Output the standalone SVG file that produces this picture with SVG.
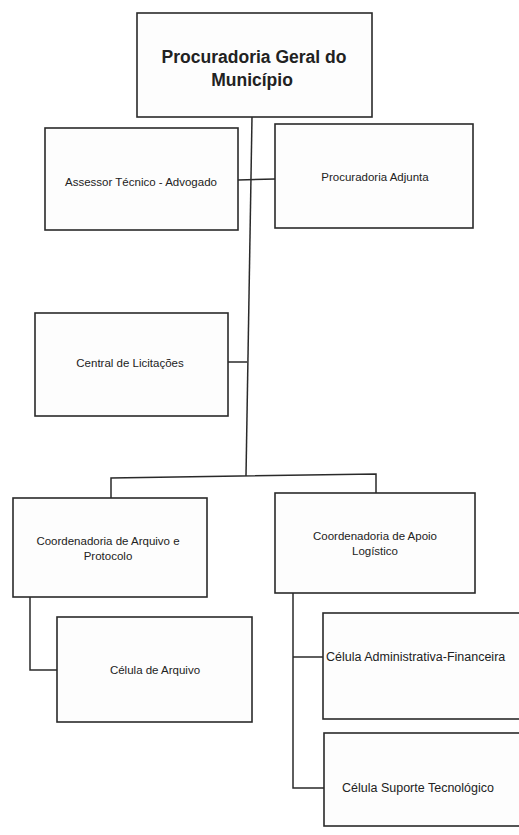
<svg xmlns="http://www.w3.org/2000/svg" width="519" height="835" viewBox="0 0 519 835">
<style>
.box{fill:#fdfdfd;stroke:#2a2a2a;stroke-width:1.6}
.t{font-family:"Liberation Sans","Noto Sans",sans-serif;fill:#222;text-anchor:middle;font-size:11.5px}
.tl{font-family:"Liberation Sans","Noto Sans",sans-serif;fill:#222;font-size:12.5px}
.title{font-family:"Liberation Sans","Noto Sans",sans-serif;fill:#222;text-anchor:middle;font-size:17.5px;font-weight:bold}
.c{fill:none;stroke:#2a2a2a;stroke-width:1.5}
</style>
<rect width="519" height="835" fill="#ffffff"/>
<g id="connectors">
<path class="c" d="M252 117 L246 476"/>
<path class="c" d="M238 180 L275 179"/>
<path class="c" d="M228 362 L247 362"/>
<path class="c" d="M111 498 L111 478 L376 474 L376 493"/>
<path class="c" d="M30 597 L30 670 L57 670"/>
<path class="c" d="M293 593 L293 788 L324 788"/>
<path class="c" d="M293 657 L323 657"/>
</g>
<g id="n-procuradoria-geral">
<rect class="box" x="137" y="13" width="235" height="104"/>
<text class="title" x="254" y="63">Procuradoria Geral do</text>
<text class="title" x="252" y="86">Município</text>
</g>
<g id="n-assessor">
<rect class="box" x="45" y="128" width="193" height="102"/>
<text class="t" x="141" y="186">Assessor Técnico - Advogado</text>
</g>
<g id="n-adjunta">
<rect class="box" x="275" y="124" width="198" height="104"/>
<text class="t" x="375" y="181">Procuradoria Adjunta</text>
</g>
<g id="n-licitacoes">
<rect class="box" x="35" y="313" width="193" height="103"/>
<text class="t" x="130" y="367">Central de Licitações</text>
</g>
<g id="n-coord-arquivo">
<rect class="box" x="13" y="498" width="194" height="99"/>
<text class="t" x="108" y="545">Coordenadoria de Arquivo e</text>
<text class="t" x="108" y="560">Protocolo</text>
</g>
<g id="n-coord-apoio">
<rect class="box" x="275" y="493" width="200" height="100"/>
<text class="t" x="375" y="540">Coordenadoria de Apoio</text>
<text class="t" x="375" y="555">Logístico</text>
</g>
<g id="n-celula-arquivo">
<rect class="box" x="57" y="617" width="195" height="105"/>
<text class="t" x="155" y="674">Célula de Arquivo</text>
</g>
<g id="n-celula-adm">
<rect class="box" x="323" y="613" width="210" height="106"/>
<text class="tl" x="326" y="661">Célula Administrativa-Financeira</text>
</g>
<g id="n-celula-suporte">
<rect class="box" x="324" y="733" width="210" height="93"/>
<text class="tl" x="342" y="792">Célula Suporte Tecnológico</text>
</g>
</svg>
